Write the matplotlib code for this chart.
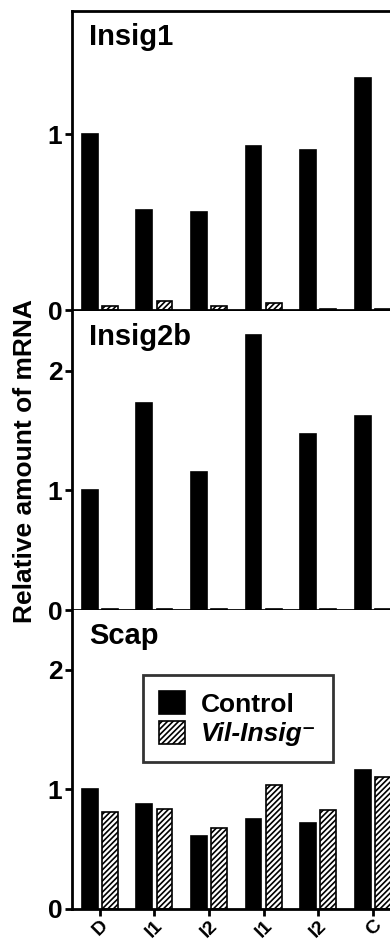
import numpy as np
import matplotlib
matplotlib.use("Agg")
from matplotlib import pyplot as plt

plt.rcParams['font.family'] = ['Liberation Sans', 'DejaVu Sans']
plt.rcParams['font.weight'] = 'bold'
plt.rcParams['hatch.linewidth'] = 1.2

# DATA
tissues = ["D", "I1", "I2", "I1", "I2", "C"]
genes = ["Insig1", "Insig2b", "Scap"]

insig1_ctrl = [1.0, 0.57, 0.56, 0.93, 0.91, 1.32]
insig1_ko = [0.02, 0.05, 0.02, 0.04, 0.005, 0.005]

insig2b_ctrl = [1.0, 1.73, 1.15, 2.30, 1.47, 1.62]
insig2b_ko = [0.01, 0.01, 0.01, 0.01, 0.01, 0.01]

scap_ctrl = [1.0, 0.88, 0.61, 0.75, 0.72, 1.16]
scap_ko = [0.81, 0.84, 0.68, 1.04, 0.83, 1.10]

ctrl_sets = [insig1_ctrl, insig2b_ctrl, scap_ctrl]
ko_sets = [insig1_ko, insig2b_ko, scap_ko]
ylims = [1.7, 2.5, 2.5]
yticks = [[0, 1], [0, 1, 2], [0, 1, 2]]

W, H = 390, 944
fig = plt.figure(figsize=(W / 100, H / 100), dpi=100)

# panel boxes in pixels (top, bottom)
panels = [(11, 310), (311, 610), (610, 909)]
left_px = 72
xmin, xmax = -0.51, 6.5
group_px = 54.6
width_px = (xmax - xmin) * group_px

x = np.arange(len(tissues))
bw = 0.29
off = 0.185

for i, (top, bot) in enumerate(panels):
    hgt = bot - top
    ax = fig.add_axes([left_px / W, 1 - bot / H, width_px / W, hgt / H])
    ax.bar(x - off, ctrl_sets[i], bw, color='black', edgecolor='black', linewidth=1.2,
           label='Control')
    ax.bar(x + off, ko_sets[i], bw, color='white', edgecolor='black', linewidth=1.2,
           hatch='//////', label='Vil-Insig')
    ax.set_xlim(xmin, xmax)
    ax.set_ylim(0, ylims[i])
    ax.set_yticks(yticks[i])
    ax.set_yticklabels([str(t) for t in yticks[i]], fontsize=19, fontweight='bold')
    ax.set_xticks(x)
    for s in ['left', 'bottom', 'top', 'right']:
        ax.spines[s].set_linewidth(2)
    ax.spines['right'].set_visible(False)
    if i > 0:
        ax.spines['top'].set_visible(False)
    ax.tick_params(axis='both', direction='out', length=5, width=2, pad=2)
    if i < 2:
        ax.set_xticklabels([])
    else:
        ax.tick_params(axis='x', pad=1)
        ax.set_xticklabels(tissues, rotation=45, ha='right', rotation_mode='anchor',
                           fontsize=14, fontweight='bold')
    ax.text(17 / width_px, 1 - 12 / hgt, genes[i], transform=ax.transAxes,
            fontsize=21, fontweight='bold', va='top', ha='left')
    if i == 2:
        h, l = ax.get_legend_handles_labels()
        leg = ax.legend(h, ['Control', 'Vil-Insig\u207b'], loc='upper left',
                        bbox_to_anchor=(71 / width_px, 1 - 65 / hgt), frameon=True,
                        fancybox=False, edgecolor='black', fontsize=19,
                        handlelength=1.0, handleheight=1.0, handletextpad=0.6,
                        borderpad=0.6, labelspacing=0.15, borderaxespad=0)
        leg.get_frame().set_linewidth(2)
        for t in leg.get_texts():
            t.set_fontweight('bold')
        leg.get_texts()[1].set_fontstyle('italic')

fig.text(25 / W, 1 - 461 / H, "Relative amount of mRNA", rotation=90,
         fontsize=19, fontweight='bold', ha='center', va='center')

fig.savefig("out.png", dpi=100)
